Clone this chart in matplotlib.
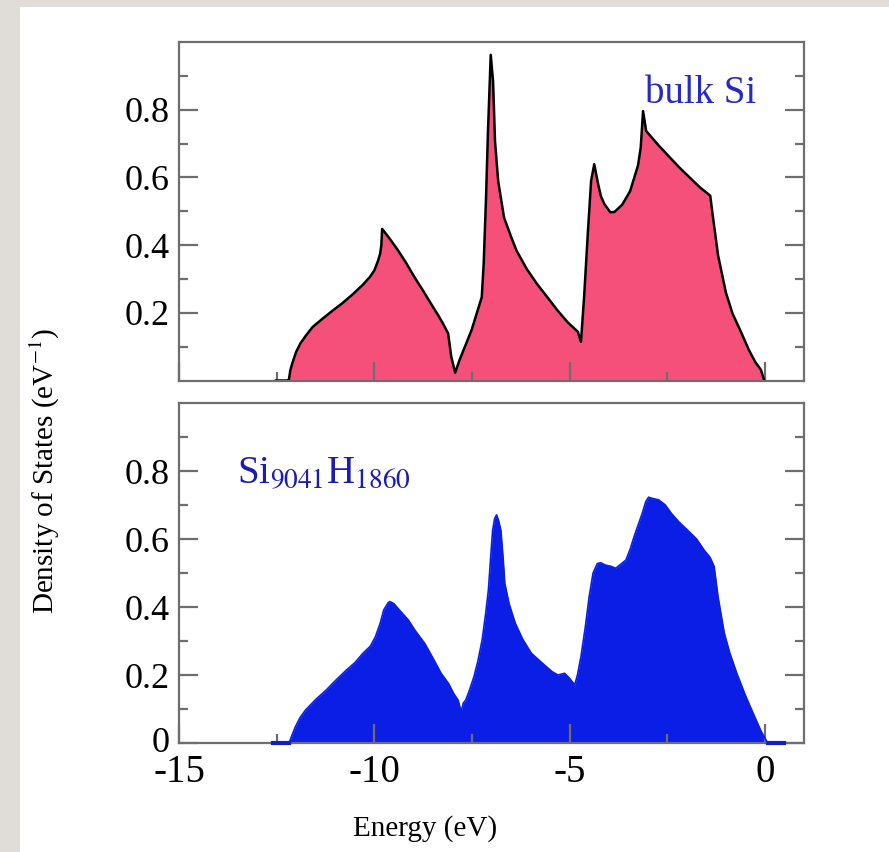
import matplotlib
matplotlib.use("Agg")
import matplotlib.pyplot as plt
from matplotlib.patches import Rectangle
from matplotlib.transforms import ScaledTranslation
from matplotlib.ticker import FixedLocator, NullFormatter, FixedFormatter

plt.rcParams['font.family'] = ['Liberation Serif', 'DejaVu Serif']
plt.rcParams['mathtext.fontset'] = 'stix'

# ---- data: bulk Si DOS (top panel) ----
E_bulk = [-12.52, -12.2, -12.19, -12.15, -12.1, -12.0, -11.89, -11.75, -11.58, -11.3,
          -11.06, -10.8, -10.54, -10.3, -10.12, -10.0, -9.91, -9.85, -9.82, -9.80,
          -9.6, -9.39, -9.2, -8.97, -8.75, -8.55, -8.35, -8.24, -8.11, -8.03,
          -7.93, -7.82, -7.51, -7.25, -7.2, -7.14, -7.09, -7.02, -6.96, -6.91,
          -6.83, -6.68, -6.5, -6.36, -6.1, -5.84, -5.55, -5.31, -5.05, -4.79,
          -4.71, -4.63, -4.53, -4.45, -4.37, -4.27, -4.2, -4.11, -3.96, -3.85,
          -3.65, -3.45, -3.25, -3.18, -3.12, -3.04, -2.71, -2.19, -1.66, -1.40,
          -1.35, -1.2, -1.0, -0.83, -0.6, -0.41, -0.25, -0.1, -0.02]
dos_bulk = [0.0, 0.0, 0.0, 0.03, 0.051, 0.085, 0.11, 0.133, 0.158, 0.185,
            0.207, 0.23, 0.256, 0.282, 0.305, 0.325, 0.352, 0.375, 0.40, 0.448,
            0.418, 0.384, 0.35, 0.305, 0.265, 0.227, 0.19, 0.168, 0.139, 0.07,
            0.023, 0.06, 0.149, 0.246, 0.345, 0.54, 0.737, 0.962, 0.884, 0.707,
            0.59, 0.482, 0.425, 0.384, 0.33, 0.286, 0.243, 0.207, 0.172, 0.144,
            0.114, 0.246, 0.443, 0.59, 0.639, 0.58, 0.545, 0.521, 0.497, 0.498,
            0.52, 0.56, 0.635, 0.688, 0.796, 0.737, 0.693, 0.629, 0.57, 0.546,
            0.5, 0.37, 0.26, 0.198, 0.14, 0.09, 0.055, 0.031, 0.0]

# ---- data: Si9041H1860 nanocrystal DOS (bottom panel) ----
E_nc = [-12.6, -12.2, -12.18, -12.1, -12.02, -11.9, -11.76, -11.5, -11.23, -11.0,
        -10.71, -10.5, -10.29, -10.1, -9.97, -9.85, -9.76, -9.65, -9.6, -9.5,
        -9.35, -9.13, -8.95, -8.71, -8.5, -8.29, -8.1, -7.97, -7.85, -7.78,
        -7.72, -7.66, -7.55, -7.45, -7.35, -7.24, -7.15, -7.08, -7.0, -6.97,
        -6.92, -6.87, -6.82, -6.76, -6.7, -6.66, -6.55, -6.39, -6.2, -5.98,
        -5.7, -5.45, -5.3, -5.13, -5.0, -4.87, -4.8, -4.71, -4.6, -4.5,
        -4.4, -4.29, -4.2, -4.08, -3.95, -3.82, -3.7, -3.56, -3.45, -3.35,
        -3.25, -3.14, -3.05, -2.98, -2.9, -2.72, -2.55, -2.4, -2.2, -1.98,
        -1.75, -1.56, -1.4, -1.3, -1.2, -1.04, -0.9, -0.72, -0.5, -0.3,
        -0.1, 0.07, 0.1, 0.5]
dos_nc = [0.0, 0.0, 0.0, 0.025, 0.048, 0.075, 0.097, 0.128, 0.156, 0.183,
          0.215, 0.236, 0.264, 0.285, 0.313, 0.352, 0.391, 0.412, 0.416, 0.41,
          0.39, 0.362, 0.33, 0.293, 0.25, 0.205, 0.175, 0.146, 0.125, 0.092,
          0.118, 0.126, 0.16, 0.195, 0.24, 0.303, 0.38, 0.45, 0.58, 0.626,
          0.66, 0.671, 0.655, 0.626, 0.54, 0.47, 0.41, 0.352, 0.305, 0.264,
          0.235, 0.21, 0.2, 0.205, 0.19, 0.171, 0.2, 0.254, 0.34, 0.43,
          0.5, 0.528, 0.53, 0.523, 0.52, 0.514, 0.525, 0.538, 0.57, 0.607,
          0.64, 0.676, 0.71, 0.723, 0.72, 0.715, 0.7, 0.676, 0.65, 0.626,
          0.6, 0.568, 0.545, 0.519, 0.43, 0.323, 0.265, 0.205, 0.14, 0.087,
          0.035, 0.0, 0.0, 0.0]

x_major = [-15, -10, -5, 0]
x_minor = [-12.5, -7.5, -2.5]
x_labels = ['-15', '-10', '-5', '0']
y_major_top = [0.2, 0.4, 0.6, 0.8]
y_labels_top = ['0.2', '0.4', '0.6', '0.8']
y_major_bot = [0.0, 0.2, 0.4, 0.6, 0.8]
y_labels_bot = ['0', '0.2', '0.4', '0.6', '0.8']
y_minor = [0.1, 0.3, 0.5, 0.7, 0.9]

W, H = 889, 852
fig = plt.figure(figsize=(W / 100, H / 100), dpi=100)
fig.patch.set_facecolor('#e0ddd8')
fig.add_artist(Rectangle((20 / W, 0), 1 - 20 / W, 1 - 7 / H, transform=fig.transFigure,
                         facecolor='white', edgecolor='none', zorder=0))

def px_axes(l, t, r, b):
    return [l / W, 1 - b / H, (r - l) / W, (b - t) / H]

ax1 = fig.add_axes(px_axes(179, 42, 804, 380.5))
ax2 = fig.add_axes(px_axes(179, 403, 804, 743))

spine_c = '#6e6e6e'
for ax in (ax1, ax2):
    ax.set_xlim(-15, 1)
    ax.set_ylim(0, 1.0)
    for s in ax.spines.values():
        s.set_color(spine_c)
        s.set_linewidth(1.6)
    ax.xaxis.set_major_locator(FixedLocator(x_major))
    ax.xaxis.set_minor_locator(FixedLocator(x_minor))
    ax.yaxis.set_minor_locator(FixedLocator(y_minor))
    ax.tick_params(which='both', direction='in', color=spine_c, width=1.6,
                   left=True, right=True, top=False, bottom=True, labelsize=26)
    ax.tick_params(which='major', length=13.5)
    ax.tick_params(which='minor', length=6.5)
    ax.tick_params(axis='y', pad=7)
    ax.tick_params(axis='x', pad=8)

ax1.yaxis.set_major_locator(FixedLocator(y_major_top))
ax1.yaxis.set_major_formatter(FixedFormatter(y_labels_top))
ax1.xaxis.set_major_formatter(NullFormatter())
ax2.yaxis.set_major_locator(FixedLocator(y_major_bot))
ax2.yaxis.set_major_formatter(FixedFormatter(y_labels_bot))
ax2.xaxis.set_major_formatter(FixedFormatter(x_labels))
ax2.tick_params(axis='x', labelsize=28)

# top panel
ax1.fill_between(E_bulk, 0, dos_bulk, color='#f4507a', lw=0, zorder=1)
ax1.plot(E_bulk, dos_bulk, color='black', lw=1.8, zorder=2)
ax1.text(0.7456, 0.82, 'bulk Si', transform=ax1.transAxes, color='#2828c8',
         fontsize=28, ha='left', va='baseline')

# bottom panel
ax2.fill_between(E_nc, 0, dos_nc, color='#0a1ee6', lw=0, zorder=1)
ax2.plot(E_nc, dos_nc, color='#0a1ee6', lw=1.2, zorder=3, clip_on=False)
ax2.plot(E_nc[:3], dos_nc[:3], color='#1020c0', lw=3, zorder=3, clip_on=False)
ax2.plot(E_nc[-3:], dos_nc[-3:], color='#1020c0', lw=3, zorder=3, clip_on=False)
ax2.text(0.0928, 0.765, r'Si$_{9041}$H$_{1860}$', transform=ax2.transAxes,
         color='#1c1cb4', fontsize=28, ha='left', va='baseline')

fig.text(0.051, 0.447, 'Density of States (eV$^{-1}$)', rotation=90,
         ha='center', va='center', fontsize=21)
fig.text(0.478, 0.028, 'Energy (eV)', ha='center', va='center', fontsize=21)

# nudge the bottom-panel "0" label slightly up, as in the reference
fig.canvas.draw()
zero_lbl = ax2.yaxis.get_major_ticks()[0].label1
zero_lbl.set_transform(zero_lbl.get_transform() + ScaledTranslation(0, 4 / 100, fig.dpi_scale_trans))

fig.savefig('out.png', dpi=100, facecolor=fig.get_facecolor())
